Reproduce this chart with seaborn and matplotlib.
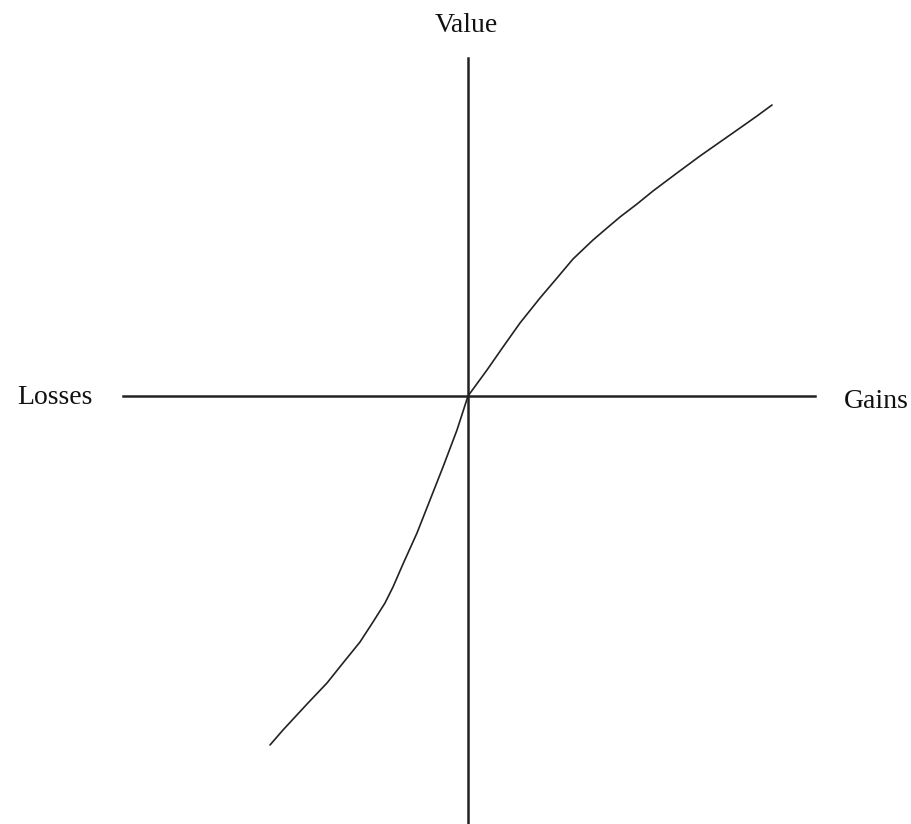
import matplotlib
matplotlib.use("Agg")
import matplotlib.pyplot as plt
import seaborn as sns
import numpy as np
import pandas as pd

# Value function sketch (units: arbitrary, origin at reference point)
loss_x = [-198, -185, -160, -141, -125, -108, -95, -83, -75, -65, -51, -38, -25, -11, 0]
loss_y = [-349, -334, -307, -287, -267, -246, -226, -207, -191, -168, -137, -104, -71, -34, 0]
gain_x = [19, 35, 52, 72, 89, 105, 125, 139, 152, 169, 185, 209, 232, 252, 272, 289, 304]
gain_y = [26, 49, 73, 98, 118, 137, 156, 168, 179, 192, 205, 223, 240, 254, 268, 280, 291]

x_label_left = "Losses"
x_label_right = "Gains"
y_label_top = "Value"

df = pd.DataFrame({"outcome": loss_x + gain_x, "value": loss_y + gain_y})

sns.set_theme(style="white")
plt.rcParams["font.family"] = ["Liberation Serif", "DejaVu Serif"]

fig = plt.figure(figsize=(9.12, 8.24), dpi=100)
ax = fig.add_axes([0, 0, 1, 1])
ax.set_xlim(-468, 444)
ax.set_ylim(-428, 396)

sns.lineplot(data=df, x="outcome", y="value", color="#222222", lw=1.2,
             sort=False, ax=ax)

for s in ["top", "right"]:
    ax.spines[s].set_visible(False)
ax.spines["left"].set_position(("data", 0))
ax.spines["bottom"].set_position(("data", 0))
ax.spines["left"].set_bounds(-428, 338)
ax.spines["bottom"].set_bounds(-345, 347)
for s in ["left", "bottom"]:
    ax.spines[s].set_color("#222222")
    ax.spines[s].set_linewidth(1.8)
ax.set_xticks([])
ax.set_yticks([])
ax.set_xlabel("")
ax.set_ylabel("")

ax.text(-2, 371, y_label_top, ha="center", va="center", fontsize=20, color="#111111")
ax.text(-413, -2, x_label_left, ha="center", va="center", fontsize=20, color="#111111")
ax.text(408, -5, x_label_right, ha="center", va="center", fontsize=20, color="#111111")

fig.savefig("out.png", dpi=100, facecolor="white")
